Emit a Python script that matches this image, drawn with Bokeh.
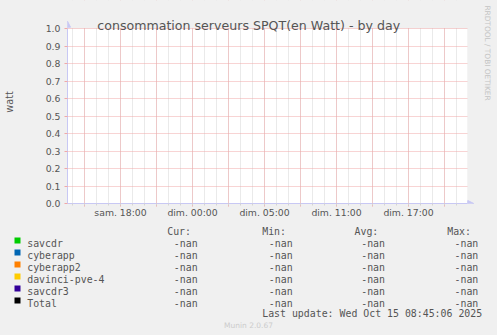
import math
from bokeh.plotting import figure
from bokeh.layouts import column
from bokeh.models import (FixedTicker, Label, Arrow, NormalHead, Range1d, ColumnDataSource)
from bokeh.core.properties import value
from bokeh.embed import file_html
from bokeh.resources import INLINE

# ---------------- data ----------------
chart_title = "consommation serveurs SPQT(en Watt) - by day"
y_axis_label = "watt"
side_text = "RRDTOOL / TOBI OETIKER"
footer_text = "Munin 2.0.67"
last_update = "Last update: Wed Oct 15 08:45:06 2025"

# time axis in hours (18 = sam. 18:00)
x_start, x_end = 13.583, 46.917
x_label_hours = [15, 18, 21, 24, 27, 30, 33, 36, 39, 42, 45]
x_label_texts = ["", "sam. 18:00", "", "dim. 00:00", "", "dim. 05:00", "", "dim. 11:00", "", "dim. 17:00", ""]
x_minor_hours = [14, 15, 16, 17, 18, 19, 20, 21, 22, 23, 24, 25, 26, 27, 28, 29, 30,
                 31, 32, 33, 34, 35, 36, 37, 38, 39, 40, 41, 42, 43, 44, 45, 46]
y_start, y_end = 0.0, 1.0
y_ticks = [0.0, 0.1, 0.2, 0.3, 0.4, 0.5, 0.6, 0.7, 0.8, 0.9, 1.0]
y_tick_labels = ["0.0", "0.1", "0.2", "0.3", "0.4", "0.5", "0.6", "0.7", "0.8", "0.9", "1.0"]
y_grid_ticks = [0.1, 0.2, 0.3, 0.4, 0.5, 0.6, 0.7, 0.8, 0.9, 1.0]

series_names = ["savcdr", "cyberapp", "cyberapp2", "davinci-pve-4", "savcdr3", "Total"]
series_colors = ["#00CC00", "#0066B3", "#FF8000", "#FFCC00", "#330099", "#000000"]
sample_hours = [13.583, 46.917]
savcdr_values = [float("nan"), float("nan")]
cyberapp_values = [float("nan"), float("nan")]
cyberapp2_values = [float("nan"), float("nan")]
davinci_values = [float("nan"), float("nan")]
savcdr3_values = [float("nan"), float("nan")]
total_values = [float("nan"), float("nan")]
series_values = [savcdr_values, cyberapp_values, cyberapp2_values, davinci_values, savcdr3_values, total_values]

stat_headers = ["Cur:", "Min:", "Avg:", "Max:"]
cur_stats = ["-nan", "-nan", "-nan", "-nan", "-nan", "-nan"]
min_stats = ["-nan", "-nan", "-nan", "-nan", "-nan", "-nan"]
avg_stats = ["-nan", "-nan", "-nan", "-nan", "-nan", "-nan"]
max_stats = ["-nan", "-nan", "-nan", "-nan", "-nan", "-nan"]
stat_columns = [cur_stats, min_stats, avg_stats, max_stats]

# ---------------- layout ----------------
W, H = 497, 335
TOP_H = 220                 # height of the chart figure
PX_L, PX_R, PY_T, PY_B = 67, 467, 28, 203   # data area in page pixels
PX_PER_H = (PX_R - PX_L) / (x_end - x_start)
PX_PER_Y = (PY_B - PY_T) / (y_end - y_start)
frame_x_right = x_start + (W - PX_L) / PX_PER_H
frame_y_top = y_start + PY_B / PX_PER_Y

def sx(px):
    return px - PX_L

def sy(py):
    return PY_B - py

def dx(px):
    return x_start + (px - PX_L) / PX_PER_H

def dy(py):
    return y_start + (PY_B - py) / PX_PER_Y

TXT = "#555555"
AXIS = "#C8C8F4"
MGRID = "#F0A8A8"
GRID = "#D4D4D4"
BG = "#F0F0F0"

p = figure(width=W, height=TOP_H, output_backend="svg", toolbar_location=None, tools="",
           x_range=Range1d(x_start, frame_x_right), y_range=Range1d(y_start, frame_y_top),
           min_border_left=PX_L, min_border_right=0,
           min_border_top=0, min_border_bottom=TOP_H - PY_B,
           background_fill_color=BG, border_fill_color=BG,
           outline_line_color=None)
p.frame_align = False

# white graph area (below the grid)
p.quad(left=[x_start], right=[x_end], bottom=[y_start], top=[y_end],
       fill_color="white", line_color=None, level="image")

# series (no data: all -nan)
for name, color, vals in zip(series_names, series_colors, series_values):
    p.line(x=sample_hours, y=vals, line_color=color, line_width=1)

# x axis
xa = p.xaxis[0]
xa.bounds = (x_start, x_end)
xa.ticker = FixedTicker(ticks=x_label_hours, minor_ticks=x_minor_hours)
xa.major_label_overrides = {h: t for h, t in zip(x_label_hours, x_label_texts)}
xa.axis_line_color = AXIS
xa.major_tick_line_color = MGRID
xa.major_tick_in = 0
xa.major_tick_out = 3
xa.minor_tick_line_color = GRID
xa.minor_tick_in = 0
xa.minor_tick_out = 2
xa.major_label_standoff = 0
xa.major_label_text_font = "DejaVu Sans"
xa.major_label_text_font_size = "9.3px"
xa.major_label_text_color = TXT

# y axis
ya = p.yaxis[0]
ya.bounds = (y_start, y_end)
ya.ticker = FixedTicker(ticks=y_ticks, minor_ticks=[])
ya.major_label_overrides = {v: t for v, t in zip(y_ticks, y_tick_labels)}
ya.axis_line_color = AXIS
ya.major_tick_line_color = MGRID
ya.major_tick_in = 0
ya.major_tick_out = 3
ya.major_label_standoff = 4
ya.major_label_text_font = "DejaVu Sans"
ya.major_label_text_font_size = "9.3px"
ya.major_label_text_color = TXT
ya.axis_label = y_axis_label
ya.axis_label_text_font = "DejaVu Sans"
ya.axis_label_text_font_size = "9.8px"
ya.axis_label_text_font_style = "normal"
ya.axis_label_text_color = TXT
ya.axis_label_standoff = 28

# grids
p.xgrid.ticker = FixedTicker(ticks=x_label_hours, minor_ticks=x_minor_hours)
p.xgrid.grid_line_color = MGRID
p.xgrid.grid_line_dash = "1 1"
p.xgrid.minor_grid_line_color = GRID
p.xgrid.minor_grid_line_dash = "1 1"
p.ygrid.ticker = FixedTicker(ticks=y_grid_ticks, minor_ticks=[])
p.ygrid.grid_line_color = MGRID
p.ygrid.grid_line_dash = "1 1"

# mask the grid outside the graph area (drawn above the grid)
p.quad(left=[x_start - 1.0, x_end],
       right=[frame_x_right + 1.0, frame_x_right + 1.0],
       bottom=[y_end + 0.6 / PX_PER_Y, y_start - 1.0],
       top=[frame_y_top + 1.0, frame_y_top + 1.0],
       fill_color=BG, line_color=None)

# axis arrows (data units, inside the frame)
p.add_layout(Arrow(end=NormalHead(size=6, fill_color=AXIS, line_color=AXIS),
                   x_start=x_start, y_start=y_end, x_end=x_start, y_end=dy(20.7),
                   line_color=AXIS, line_width=1))
p.add_layout(Arrow(end=NormalHead(size=6, fill_color=AXIS, line_color=AXIS),
                   x_start=x_end, y_start=y_start, x_end=dx(473.3), y_end=y_start,
                   line_color=AXIS, line_width=1))

def text(px, py, s, **kw):
    p.add_layout(Label(x=sx(px), y=sy(py), x_units="screen", y_units="screen", text=s, **kw))

# title
text(248.2, 25, chart_title, text_align="center", text_baseline="alphabetic",
     text_font="DejaVu Sans", text_font_size="12.6px", text_color=TXT)

# side text
text(487, 52.5, side_text, angle=-math.pi / 2, text_align="center", text_baseline="middle",
     text_font="DejaVu Sans", text_font_size="7.4px", text_color="#C4C4C4")

# ---------------- legend table (second figure, 1 unit = 1 pixel) ----------------
LH = H - TOP_H
leg = figure(width=W, height=LH, output_backend="svg", toolbar_location=None, tools="",
             x_range=Range1d(0, W), y_range=Range1d(LH, 0),
             min_border_left=0, min_border_right=0, min_border_top=0, min_border_bottom=0,
             x_axis_location=None, y_axis_location=None,
             background_fill_color=BG, border_fill_color=BG, outline_line_color=None)
leg.frame_align = False
leg.xgrid.visible = False
leg.ygrid.visible = False

MONO = "DejaVu Sans Mono"
FS = "9.9px"
header_x = [166.7, 261.7, 354.0, 446.7]
value_x = [173.3, 268.3, 360.7, 454.0]
row_base0 = 243.2 - TOP_H
row_step = 12.0
row_base = [row_base0 + i * row_step for i in range(len(series_names))]

def mono_text(xs, ys, texts, align="left"):
    src = ColumnDataSource(dict(x=xs, y=ys, t=texts))
    leg.text(x="x", y="y", text="t", source=src, text_font=value(MONO),
             text_font_size=value(FS), text_color=TXT, text_align=value(align),
             text_baseline=value("alphabetic"))

mono_text(header_x, [row_base0 - row_step] * 4, stat_headers)
mono_text([26.7] * len(series_names), row_base, series_names)
for vx, col in zip(value_x, stat_columns):
    mono_text([vx] * len(col), row_base, col)
mono_text([261.7], [312.8 - TOP_H], [last_update])

sw_src = ColumnDataSource(dict(x=[17.0] * len(series_names), y=[b - 3.2 for b in row_base],
                               c=series_colors))
leg.rect(x="x", y="y", width=6, height=6, fill_color="c", line_color=None, source=sw_src)

leg.text(x=[248.0], y=[325.0 - TOP_H], text=[footer_text], text_font=value("DejaVu Sans"),
         text_font_size=value("7.5px"), text_color="#CCCCCC", text_align=value("center"),
         text_baseline=value("alphabetic"))

layout = column(p, leg, spacing=0, styles={"background-color": BG})
open("out.html", "w").write(file_html(layout, INLINE))
